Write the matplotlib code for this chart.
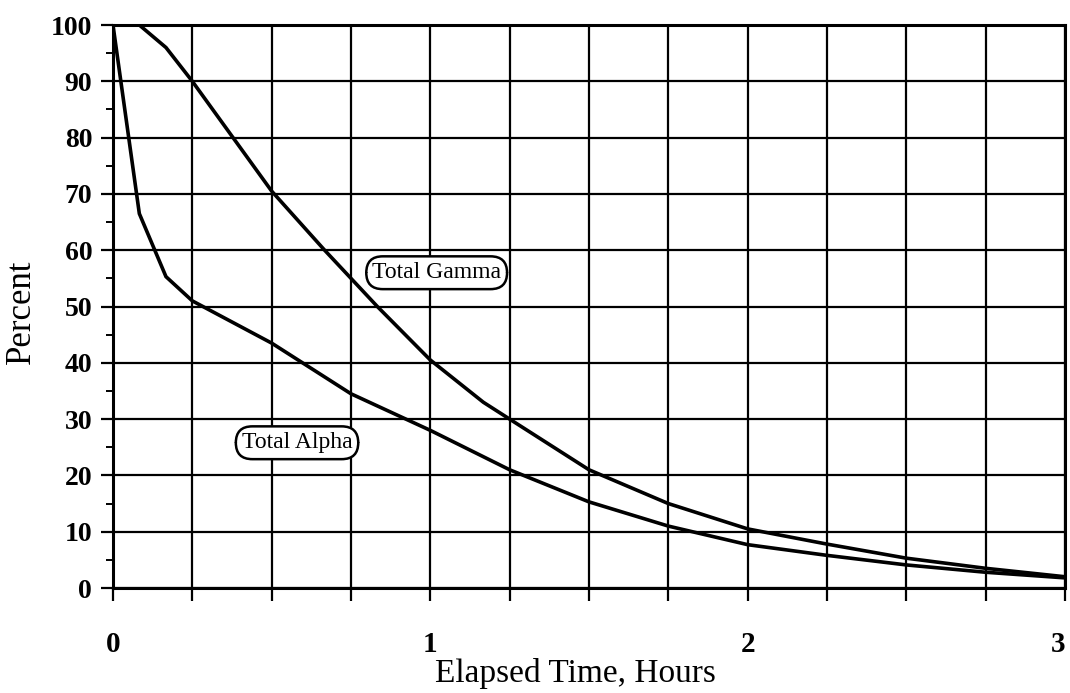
import matplotlib.pyplot as plt
from matplotlib.ticker import MultipleLocator

# elapsed time (hours) and percent remaining
gamma_t = [0, 0.083, 0.167, 0.25, 0.5, 0.667, 0.75, 0.833, 1.0, 1.167, 1.25,
           1.5, 1.75, 2.0, 2.25, 2.5, 2.75, 3.0]
gamma_pct = [100, 100, 96, 90, 70.5, 60, 55, 50, 40.5, 33, 30,
             21, 15, 10.5, 7.8, 5.3, 3.5, 2]

alpha_t = [0, 0.083, 0.167, 0.25, 0.5, 0.75, 1.0, 1.25, 1.5, 1.75, 2.0,
           2.25, 2.5, 2.75, 3.0]
alpha_pct = [100, 66.5, 55.3, 51, 43.5, 34.5, 28, 21, 15.3, 11, 7.7,
             5.8, 4.1, 2.8, 1.8]

labels = {'Total Gamma': (1.02, 56), 'Total Alpha': (0.58, 25.8)}

plt.rcParams['font.family'] = 'Liberation Serif'

fig = plt.figure(figsize=(10.70, 6.93), dpi=100)
ax = fig.add_axes([0.1056, 0.1515, 0.8897, 0.8124])

ax.plot(gamma_t, gamma_pct, color='black', lw=2.6, solid_joinstyle='miter')
ax.plot(alpha_t, alpha_pct, color='black', lw=2.6, solid_joinstyle='miter')

for txt, (x, y) in labels.items():
    ax.text(x, y, txt, fontsize=17, ha='center', va='center',
            bbox=dict(boxstyle='round,pad=0.25,rounding_size=0.7',
                      fc='white', ec='black', lw=1.8))

ax.set_xlim(0, 3)
ax.set_ylim(0, 100)
ax.xaxis.set_major_locator(MultipleLocator(0.25))
ax.yaxis.set_major_locator(MultipleLocator(10))
ax.yaxis.set_minor_locator(MultipleLocator(5))
ax.grid(True, which='major', color='black', lw=1.6)

ax.set_xticklabels([str(int(round(v))) if abs(v - round(v)) < 1e-9 else ''
                    for v in ax.get_xticks()])
ax.tick_params(axis='x', which='major', length=9, width=1.6, pad=22,
               labelsize=21)
ax.tick_params(axis='y', which='major', length=9, width=1.6, pad=6,
               labelsize=20)
ax.tick_params(axis='y', which='minor', length=5, width=1.4)
for lab in ax.get_xticklabels() + ax.get_yticklabels():
    lab.set_fontweight('bold')

# keep the "3" inside the figure edge
xlabs = [t for t in ax.get_xticklabels() if t.get_text() == '3']
for t in xlabs:
    t.set_horizontalalignment('right')

for s in ax.spines.values():
    s.set_linewidth(2.2)

ax.set_xlabel('Elapsed Time, Hours', fontsize=24)
ax.xaxis.set_label_coords(0.486, -0.125)
ax.set_ylabel('Percent', fontsize=25)
ax.yaxis.set_label_coords(-0.079, 0.49)

fig.savefig('out.png', dpi=100)
